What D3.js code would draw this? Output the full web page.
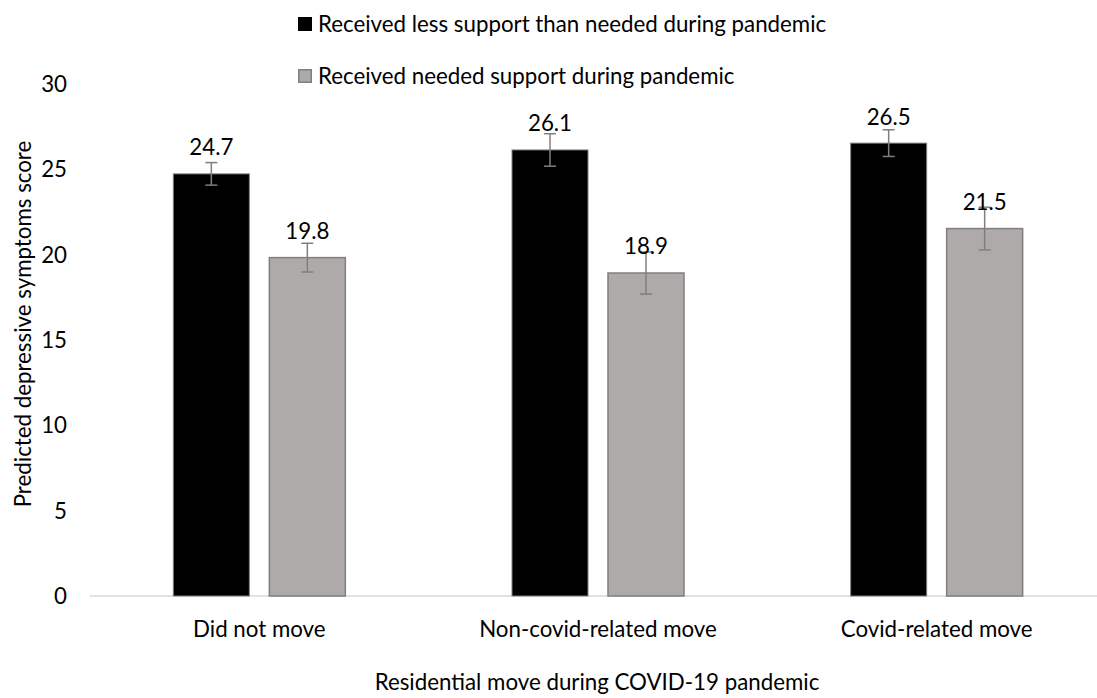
<!DOCTYPE html>
<html>
<head>
<meta charset="utf-8">
<script src="https://cdn.jsdelivr.net/npm/d3@7"></script>
<style>
  html, body { margin: 0; padding: 0; background: #fff; }
  svg text { font-family: Lato, "Noto Sans", sans-serif; fill: #000; }
</style>
</head>
<body>
<svg id="chart" width="1097" height="698"></svg>
<script>
// chart values
const categories = ['Did not move', 'Non-covid-related move', 'Covid-related move'];
const seriesNames = ['Received less support than needed during pandemic', 'Received needed support during pandemic'];
const lessSupport = [24.7, 26.1, 26.5];
const neededSupport = [19.8, 18.9, 21.5];
const lessSupportErr = [0.66, 0.95, 0.78];
const neededSupportErr = [0.84, 1.23, 1.25];
const yTicks = [0, 5, 10, 15, 20, 25, 30];

const fontSize = 22.3;
const colors = ['#000000', '#aeaaaa'];
const strokes = ['#7f7f7f', '#7f7f7f'];

const svg = d3.select('#chart');

const x = d3.scaleBand()
  .domain(categories)
  .range([90, 1106])
  .paddingInner(0)
  .paddingOuter(0);

const y = d3.scaleLinear()
  .domain([0, 30])
  .range([596, 83.3]);

// inner scale for the two bars in each group (76px bars, 20px gap)
const barW = 76, barGap = 20;
const inner = d3.scaleOrdinal()
  .domain([0, 1])
  .range([-(barW + barGap / 2), barGap / 2]);

const rows = categories.map((c, i) => ({
  cat: c,
  vals: [
    { s: 0, v: lessSupport[i], e: lessSupportErr[i] },
    { s: 1, v: neededSupport[i], e: neededSupportErr[i] }
  ]
}));

// y tick labels (no axis line, no gridlines)
const yAxis = d3.axisLeft(y).tickValues(yTicks).tickSize(0).tickPadding(0);
const yg = svg.append('g').attr('transform', 'translate(67,0)').call(yAxis);
yg.select('.domain').remove();
yg.selectAll('text')
  .attr('font-family', null)
  .style('font-size', fontSize + 'px')
  .attr('dy', '0.35em');

// baseline
svg.append('line')
  .attr('x1', 90).attr('x2', 1097)
  .attr('y1', y(0)).attr('y2', y(0))
  .attr('stroke', '#d9d9d9')
  .attr('stroke-width', 1.5);

// category labels
const xAxis = d3.axisBottom(x).tickSize(0).tickPadding(0);
const xg = svg.append('g').attr('transform', 'translate(0,629)').call(xAxis);
xg.select('.domain').remove();
xg.selectAll('text')
  .attr('font-family', null)
  .attr('y', 0)
  .attr('dy', '0.35em')
  .style('font-size', fontSize + 'px');

const groups = svg.append('g').selectAll('g')
  .data(rows)
  .join('g')
  .attr('transform', d => `translate(${x(d.cat) + x.bandwidth() / 2},0)`);

// bars
groups.selectAll('rect')
  .data(d => d.vals)
  .join('rect')
  .attr('x', d => inner(d.s))
  .attr('width', barW)
  .attr('y', d => y(d.v))
  .attr('height', d => y(0) - y(d.v))
  .attr('fill', d => colors[d.s])
  .attr('stroke', d => strokes[d.s])
  .attr('stroke-width', d => d.s === 0 ? 1 : 1.5);

// error bars
const errG = groups.selectAll('g.err')
  .data(d => d.vals)
  .join('g')
  .attr('class', 'err')
  .attr('transform', d => `translate(${inner(d.s) + barW / 2},0)`)
  .attr('stroke', '#7f7f7f')
  .attr('stroke-width', 1.5);

errG.append('line')
  .attr('y1', d => y(d.v + d.e))
  .attr('y2', d => y(d.v - d.e));
errG.append('line')
  .attr('x1', -6).attr('x2', 6)
  .attr('y1', d => y(d.v + d.e)).attr('y2', d => y(d.v + d.e));
errG.append('line')
  .attr('x1', -6).attr('x2', 6)
  .attr('y1', d => y(d.v - d.e)).attr('y2', d => y(d.v - d.e));

// data labels
groups.selectAll('text.val')
  .data(d => d.vals)
  .join('text')
  .attr('class', 'val')
  .attr('x', d => inner(d.s) + barW / 2)
  .attr('y', d => y(d.v) - 18.5)
  .attr('text-anchor', 'middle')
  .style('font-size', fontSize + 'px')
  .text(d => d.v.toFixed(1));

// legend
const legend = svg.append('g').selectAll('g')
  .data(seriesNames)
  .join('g')
  .attr('transform', (d, i) => `translate(298,${i === 0 ? 17 : 69})`);

legend.append('rect')
  .attr('x', 0.75).attr('y', 0.75)
  .attr('width', 12.5).attr('height', 12.5)
  .attr('fill', (d, i) => colors[i])
  .attr('stroke', (d, i) => i === 0 ? '#000' : '#7f7f7f')
  .attr('stroke-width', 1.5);

legend.append('text')
  .attr('x', 20)
  .attr('y', 7)
  .attr('dy', '0.35em')
  .style('font-size', fontSize + 'px')
  .text(d => d);

// axis titles
svg.append('text')
  .attr('transform', 'translate(23,324) rotate(-90)')
  .attr('text-anchor', 'middle')
  .attr('dy', '0.35em')
  .style('font-size', fontSize + 'px')
  .text('Predicted depressive symptoms score');

svg.append('text')
  .attr('x', 597)
  .attr('y', 682)
  .attr('text-anchor', 'middle')
  .attr('dy', '0.35em')
  .style('font-size', fontSize + 'px')
  .text('Residential move during COVID-19 pandemic');
</script>
</body>
</html>
